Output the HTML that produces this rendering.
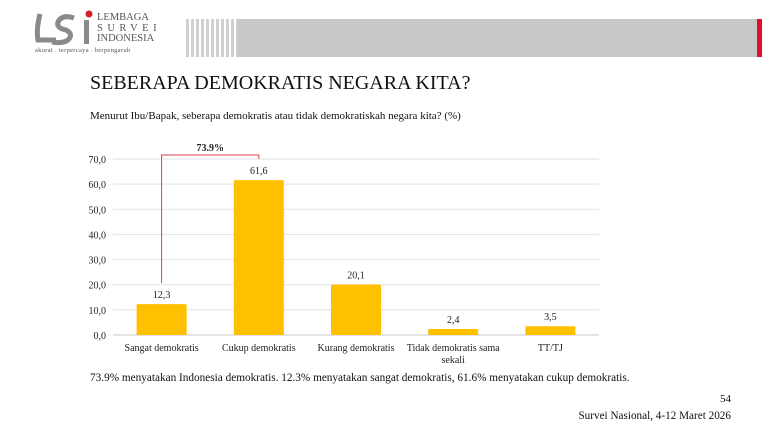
<!DOCTYPE html>
<html><head><meta charset="utf-8"><style>
body{margin:0;width:768px;height:429px;background:#fff;position:relative;overflow:hidden;font-family:"Liberation Serif",serif;color:#111}
.abs{position:absolute}
</style></head><body>
<svg class="abs" style="left:0;top:0" width="100" height="50">
  <path d="M40 14 Q36 30 38 40 L56 40" stroke="#8a8a8a" stroke-width="5" fill="none"/>
  <path d="M74 18 Q62 14 58 22 Q56 28 66 30 Q74 34 68 40 Q62 44 52 42" stroke="#8a8a8a" stroke-width="5" fill="none"/>
  <rect x="84" y="20" width="5" height="24" fill="#8a8a8a"/>
  <circle cx="89" cy="14" r="3.5" fill="#d0202a"/>
</svg>
<div class="abs" style="left:97px;top:13px;font-size:10.5px;line-height:10.5px;color:#555">LEMBAGA<br><span style="letter-spacing:4.5px">SURVEI</span><br>INDONESIA</div>
<div class="abs" style="left:35px;top:47px;font-size:6.5px;color:#555;white-space:nowrap;letter-spacing:0.3px">akurat . terpercaya . berpengaruh</div>
<div class="abs" style="left:186px;top:19px;width:52px;height:38px;background:repeating-linear-gradient(90deg,#d0d0d0 0 3px,#fff 3px 5px)"></div>
<div class="abs" style="left:237px;top:19px;width:520px;height:38px;background:#c8c8c8"></div>
<div class="abs" style="left:757px;top:19px;width:5px;height:38px;background:#e0102a"></div>
<div class="abs" style="left:90px;top:72px;font-size:20px;white-space:nowrap">SEBERAPA DEMOKRATIS NEGARA KITA?</div>
<div class="abs" style="left:90px;top:110px;font-size:11px;white-space:nowrap">Menurut Ibu/Bapak, seberapa demokratis atau tidak demokratiskah negara kita? (%)</div>
<svg class="abs" style="left:0;top:0" width="768" height="429" id="chart"></svg>
<div class="abs" style="left:90px;top:372px;font-size:11.25px;white-space:nowrap">73.9% menyatakan Indonesia demokratis. 12.3% menyatakan sangat demokratis, 61.6% menyatakan cukup demokratis.</div>
<div class="abs" style="right:37px;top:393px;font-size:11px">54</div>
<div class="abs" style="right:37px;top:410px;font-size:11.2px;white-space:nowrap">Survei Nasional, 4-12 Maret 2026</div>
<script>
const categories=["Sangat demokratis","Cukup demokratis","Kurang demokratis","Tidak demokratis sama|sekali","TT/TJ"];
const values=[12.3,61.6,20.1,2.4,3.5];
const valueLabels=["12,3","61,6","20,1","2,4","3,5"];
const ticks=[0,10,20,30,40,50,60,70];
const tickLabels=["0,0","10,0","20,0","30,0","40,0","50,0","60,0","70,0"];
const bracketLabel="73.9%";
const NS="http://www.w3.org/2000/svg";
const svg=document.getElementById('chart');
const x0=113,x1=599,y0=335,y70=159;
const y=v=>y0-(v/70)*(y0-y70);
const band=(x1-x0)/categories.length;
const xc=i=>x0+band*(i+0.5);
function mk(t,a){const e=document.createElementNS(NS,t);for(const k in a)e.setAttribute(k,a[k]);svg.appendChild(e);return e;}
ticks.forEach((t,i)=>{
 const l=mk('line',{x1:x0,x2:x1,y1:y(t),y2:y(t),stroke:t===0?'#c8c8c8':'#e2e2e2','stroke-width':1});
 
 
 const tx=mk('text',{x:106,y:y(t)+4,'text-anchor':'end','font-size':10,'font-family':'Liberation Serif, serif',fill:'#222'});
 tx.textContent=tickLabels[i];
 
 
});
values.forEach((v,i)=>{
 const b=mk('rect',{x:xc(i)-25,y:y(v),width:50,height:y0-y(v),fill:'#FFC000',rx:1});
 
 
 const t=mk('text',{x:xc(i),y:y(v)-6,'text-anchor':'middle','font-size':10,'font-family':'Liberation Serif, serif',fill:'#222'});
 t.textContent=valueLabels[i];
 
 
 categories[i].split('|').forEach((line,j)=>{
  const c=mk('text',{x:xc(i),y:351+j*12,'text-anchor':'middle','font-size':10,'font-family':'Liberation Serif, serif',fill:'#222'});
  c.textContent=line;
  
  
 });
});
const br=mk('polyline',{points:`${xc(0)},${y(values[0])-21} ${xc(0)},155 ${xc(1)},155 ${xc(1)},159`,fill:'none',stroke:'#e04050','stroke-width':1});


const bl=mk('text',{x:(xc(0)+xc(1))/2,y:151,'text-anchor':'middle','font-size':10,'font-weight':'bold','font-family':'Liberation Serif, serif',fill:'#222'});
bl.textContent=bracketLabel;


</script>
</body></html>
